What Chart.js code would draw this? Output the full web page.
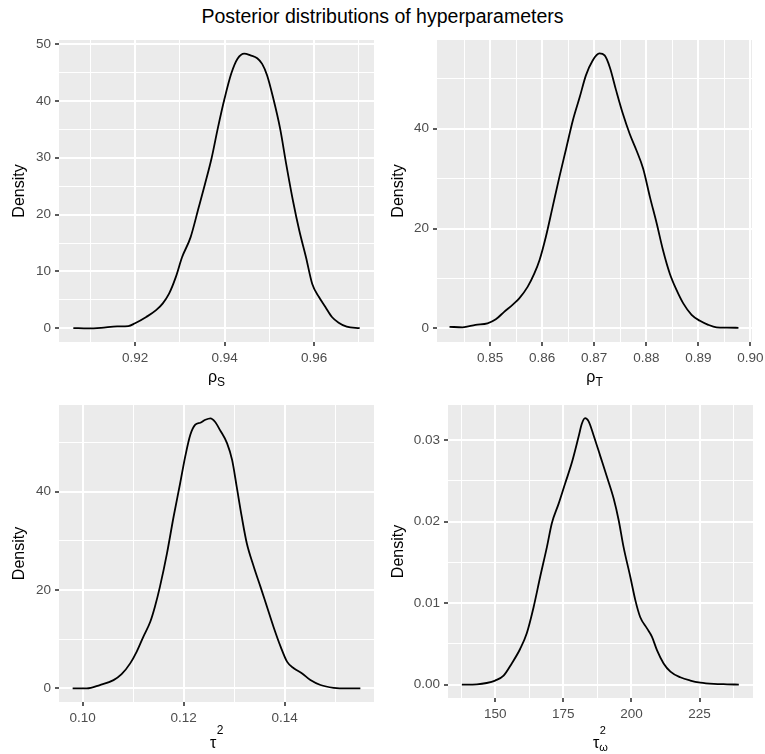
<!DOCTYPE html>
<html>
<head>
<meta charset="utf-8">
<script src="https://cdn.jsdelivr.net/npm/chart.js@4.4.1/dist/chart.umd.min.js"></script>
<style>
html, body { margin: 0; padding: 0; background: #fff; }
body { width: 765px; height: 754px; overflow: hidden; position: relative; }
#title { position: absolute; left: 0; top: 6px; width: 765px; text-align: center;
  font: 19.5px "Liberation Sans", Arial, sans-serif; line-height: 20px; color: #000; }
canvas { position: absolute; }
</style>
</head>
<body>
<div id="title">Posterior distributions of hyperparameters</div>
<canvas id="c1" width="382" height="370" style="left:0;top:30px"></canvas>
<canvas id="c2" width="398" height="370" style="left:382px;top:30px"></canvas>
<canvas id="c3" width="382" height="359" style="left:0;top:395px"></canvas>
<canvas id="c4" width="398" height="359" style="left:382px;top:395px"></canvas>
<script>
// rho_S
const rhoSX = [0.9062, 0.9095, 0.9124, 0.9160, 0.9185, 0.9200, 0.9225, 0.9247, 0.9262, 0.9276,
  0.9291, 0.9305, 0.9324, 0.9342, 0.9356, 0.9371, 0.9385, 0.9400, 0.9415, 0.9429,
  0.9444, 0.9458, 0.9473, 0.9484, 0.9495, 0.9509, 0.9524, 0.9538, 0.9553, 0.9567,
  0.9582, 0.9596, 0.9611, 0.9625, 0.9640, 0.9655, 0.9673, 0.9702]
const rhoSDensity = [0.05, 0.0, 0.1, 0.35, 0.4, 0.9, 2.0, 3.2, 4.4, 6.1,
  9.0, 12.5, 16.0, 21.2, 25.3, 29.9, 35.2, 40.4, 44.8, 47.4,
  48.3, 48.0, 47.5, 46.5, 44.5, 40.4, 35.2, 28.8, 22.4, 17.2,
  12.5, 7.8, 5.5, 3.8, 2.0, 1.0, 0.3, 0.05]

// rho_T
const rhoTX = [0.8422, 0.8447, 0.8472, 0.8495, 0.8511, 0.8527, 0.8543, 0.8556, 0.8572, 0.8585,
  0.8595, 0.8607, 0.8620, 0.8633, 0.8646, 0.8659, 0.8672, 0.8684, 0.8697, 0.8710,
  0.8720, 0.8730, 0.8742, 0.8755, 0.8768, 0.8781, 0.8794, 0.8807, 0.8820, 0.8832,
  0.8845, 0.8858, 0.8871, 0.8887, 0.8903, 0.8919, 0.8935, 0.8955, 0.8977]
const rhoTDensity = [0.3, 0.2, 0.7, 1.0, 1.8, 3.3, 4.7, 6.0, 8.3, 11.0,
  13.7, 18.3, 24.3, 30.3, 36.0, 41.7, 46.3, 50.7, 53.7, 55.1,
  54.7, 52.3, 47.7, 43.0, 39.0, 35.7, 32.0, 26.3, 21.0, 15.7,
  11.0, 7.7, 5.0, 2.7, 1.5, 0.7, 0.2, 0.13, 0.1]

// tau^2
const tau2X = [0.0980, 0.1008, 0.1034, 0.1061, 0.1077, 0.1094, 0.1107, 0.1120, 0.1134, 0.1143,
  0.1153, 0.1167, 0.1180, 0.1193, 0.1203, 0.1213, 0.1223, 0.1233, 0.1243, 0.1253,
  0.1262, 0.1272, 0.1286, 0.1296, 0.1305, 0.1315, 0.1325, 0.1339, 0.1352, 0.1365,
  0.1378, 0.1392, 0.1405, 0.1418, 0.1434, 0.1451, 0.1471, 0.1497, 0.1524, 0.1550]
const tau2Density = [0.0, 0.0, 0.7, 1.7, 2.9, 5.1, 7.5, 10.5, 13.6, 16.6,
  20.7, 27.5, 34.9, 41.7, 47.1, 51.5, 53.6, 54.0, 54.6, 54.9,
  54.2, 52.5, 49.8, 46.4, 41.0, 34.9, 29.5, 24.7, 20.7, 16.6,
  12.5, 8.5, 5.4, 4.1, 3.1, 1.7, 0.7, 0.14, 0.0, 0.0]

// tau_omega^2
const tauW2X = [137.8, 143.3, 146.9, 150.0, 153.1, 156.1, 159.2, 161.6, 164.1, 166.5,
  169.0, 170.8, 173.3, 175.7, 178.2, 180.6, 181.8, 183.0, 184.3, 186.1,
  188.6, 191.0, 193.5, 195.3, 197.1, 199.6, 201.4, 203.2, 205.7, 207.5,
  209.4, 211.8, 214.3, 217.9, 221.6, 225.3, 230.2, 235.1, 239.4]
const tauW2Density = [0.0, 0.00004, 0.0002, 0.0005, 0.0011, 0.0026, 0.0044, 0.0063, 0.0095, 0.0132,
  0.0169, 0.0198, 0.0222, 0.0247, 0.0273, 0.0304, 0.0320, 0.0327, 0.0323, 0.0306,
  0.0280, 0.0255, 0.0228, 0.0202, 0.0169, 0.0132, 0.0104, 0.0083, 0.0069, 0.0059,
  0.0042, 0.0026, 0.0016, 0.0009, 0.0005, 0.00025, 0.0001, 0.00004, 0.0]

// ticks
const rhoSXTicks = [0.92, 0.94, 0.96]
const rhoSXLabels = ['0.92', '0.94', '0.96']
const rhoSXMinor = [0.91, 0.93, 0.95, 0.97]
const rhoSYTicks = [0, 10, 20, 30, 40, 50]
const rhoSYLabels = ['0', '10', '20', '30', '40', '50']
const rhoSYMinor = [5, 15, 25, 35, 45]

const rhoTXTicks = [0.85, 0.86, 0.87, 0.88, 0.89, 0.90]
const rhoTXLabels = ['0.85', '0.86', '0.87', '0.88', '0.89', '0.90']
const rhoTXMinor = [0.845, 0.855, 0.865, 0.875, 0.885, 0.895]
const rhoTYTicks = [0, 20, 40]
const rhoTYLabels = ['0', '20', '40']
const rhoTYMinor = [10, 30, 50]

const tau2XTicks = [0.10, 0.12, 0.14]
const tau2XLabels = ['0.10', '0.12', '0.14']
const tau2XMinor = [0.11, 0.13, 0.15]
const tau2YTicks = [0, 20, 40]
const tau2YLabels = ['0', '20', '40']
const tau2YMinor = [10, 30, 50]

const tauW2XTicks = [150, 175, 200, 225]
const tauW2XLabels = ['150', '175', '200', '225']
const tauW2XMinor = [137.5, 162.5, 187.5, 212.5, 237.5]
const tauW2YTicks = [0, 0.01, 0.02, 0.03]
const tauW2YLabels = ['0.00', '0.01', '0.02', '0.03']
const tauW2YMinor = [0.005, 0.015, 0.025]

// axis limits (ggplot 5% expansion)
const rhoSXRange = [0.9030, 0.9734]
const rhoSYRange = [-2.4, 50.7]
const rhoTXRange = [0.8398, 0.9003]
const rhoTYRange = [-2.75, 57.8]
const tau2XRange = [0.0953, 0.1577]
const tau2YRange = [-2.75, 57.6]
const tauW2XRange = [132.7, 244.6]
const tauW2YRange = [-0.00164, 0.0343]

const FONT = '"Liberation Sans", Arial, sans-serif'
Chart.defaults.font.family = FONT

const panelBg = {
  id: 'panelBg',
  beforeDraw(chart) {
    const { ctx, chartArea: a } = chart
    ctx.save()
    ctx.fillStyle = '#EBEBEB'
    ctx.fillRect(a.left, a.top, a.right - a.left, a.bottom - a.top)
    ctx.restore()
  }
}

// x axis titles with sub/superscripts
const mathTitle = {
  id: 'mathTitle',
  afterDraw(chart, args, o) {
    const { ctx, chartArea: a } = chart
    const big = '16px ' + FONT
    const small = o.smallSize + 'px ' + FONT
    ctx.save()
    ctx.fillStyle = '#000'
    ctx.textBaseline = 'alphabetic'
    ctx.textAlign = 'left'
    ctx.font = big
    const wb = ctx.measureText(o.base).width
    ctx.font = small
    const ws = Math.max(o.sub ? ctx.measureText(o.sub).width : 0, o.sup ? ctx.measureText(o.sup).width : 0)
    const x0 = (a.left + a.right) / 2 - (wb + ws) / 2
    const y0 = a.bottom + o.dy
    ctx.font = big
    ctx.fillText(o.base, x0, y0)
    ctx.font = small
    if (o.sub) ctx.fillText(o.sub, x0 + wb, y0 + o.subDy)
    if (o.sup) ctx.fillText(o.sup, x0 + wb + 0.5, y0 - o.supDy)
    ctx.restore()
  }
}

function makeAxis(majors, labels, minors, range, size, isX, titlePad) {
  const ax = {
    type: 'linear',
    min: range[0],
    max: range[1],
    afterBuildTicks(scale) {
      const t = majors.map(v => ({ value: v, isMajor: true }))
        .concat(minors.map(v => ({ value: v, isMajor: false })))
      t.sort((p, q) => p.value - q.value)
      scale.ticks = t
    },
    afterFit(scale) {
      if (isX) {
        scale.height = size
        scale.paddingLeft = 0
        scale.paddingRight = 0
      } else {
        scale.width = size
        scale.paddingTop = 0
        scale.paddingBottom = 0
      }
    },
    border: { display: false },
    grid: {
      color: '#FFFFFF',
      lineWidth: c => (c.tick && c.tick.isMajor ? 2 : 1),
      tickColor: c => (c.tick && c.tick.isMajor ? '#333333' : 'rgba(0,0,0,0)'),
      tickWidth: 1.6,
      tickLength: 4,
      drawTicks: true
    },
    ticks: {
      autoSkip: false,
      maxRotation: 0,
      minRotation: 0,
      color: '#4D4D4D',
      font: { size: 13.5 },
      padding: isX ? 4 : 4,
      callback(value) {
        const i = majors.indexOf(value)
        return i >= 0 ? labels[i] : ''
      }
    }
  }
  if (!isX) {
    ax.title = {
      display: true,
      text: 'Density',
      color: '#000',
      font: { size: 16 },
      padding: { top: titlePad, bottom: 0 }
    }
  }
  return ax
}

function makePanel(id, xs, ys, xAxis, yAxis, lay, math) {
  const pts = xs.map((x, i) => ({ x: x, y: ys[i] }))
  return new Chart(document.getElementById(id), {
    type: 'line',
    data: {
      datasets: [{
        data: pts,
        borderColor: '#000000',
        borderWidth: 1.8,
        pointRadius: 0,
        fill: false,
        cubicInterpolationMode: 'monotone'
      }]
    },
    options: {
      responsive: false,
      animation: false,
      devicePixelRatio: 1,
      layout: { padding: { left: 0, top: lay.top, right: lay.right, bottom: 0 } },
      scales: { x: xAxis, y: yAxis },
      plugins: { legend: { display: false }, tooltip: { enabled: false }, mathTitle: math }
    },
    plugins: [panelBg, mathTitle]
  })
}

makePanel('c1', rhoSX, rhoSDensity,
  makeAxis(rhoSXTicks, rhoSXLabels, rhoSXMinor, rhoSXRange, 58, true),
  makeAxis(rhoSYTicks, rhoSYLabels, rhoSYMinor, rhoSYRange, 59, false, 10.2),
  { top: 10, right: 8 },
  { base: 'ρ', sub: 'S', smallSize: 12, dy: 40, subDy: 4 })

makePanel('c2', rhoTX, rhoTDensity,
  makeAxis(rhoTXTicks, rhoTXLabels, rhoTXMinor, rhoTXRange, 58, true),
  makeAxis(rhoTYTicks, rhoTYLabels, rhoTYMinor, rhoTYRange, 55, false, 7.2),
  { top: 10, right: 28 },
  { base: 'ρ', sub: 'T', smallSize: 12, dy: 40, subDy: 4 })

makePanel('c3', tau2X, tau2Density,
  makeAxis(tau2XTicks, tau2XLabels, tau2XMinor, tau2XRange, 52, true),
  makeAxis(tau2YTicks, tau2YLabels, tau2YMinor, tau2YRange, 59, false, 10.2),
  { top: 10, right: 8 },
  { base: 'τ', sup: '2', smallSize: 12, dy: 46, supDy: 14 })

makePanel('c4', tauW2X, tauW2Density,
  makeAxis(tauW2XTicks, tauW2XLabels, tauW2XMinor, tauW2XRange, 56, true),
  makeAxis(tauW2YTicks, tauW2YLabels, tauW2YMinor, tauW2YRange, 66, false, 7.2),
  { top: 10, right: 27 },
  { base: 'τ', sub: 'ω', sup: '2', smallSize: 11, dy: 50, subDy: 3, supDy: 14 })
</script>
</body>
</html>
